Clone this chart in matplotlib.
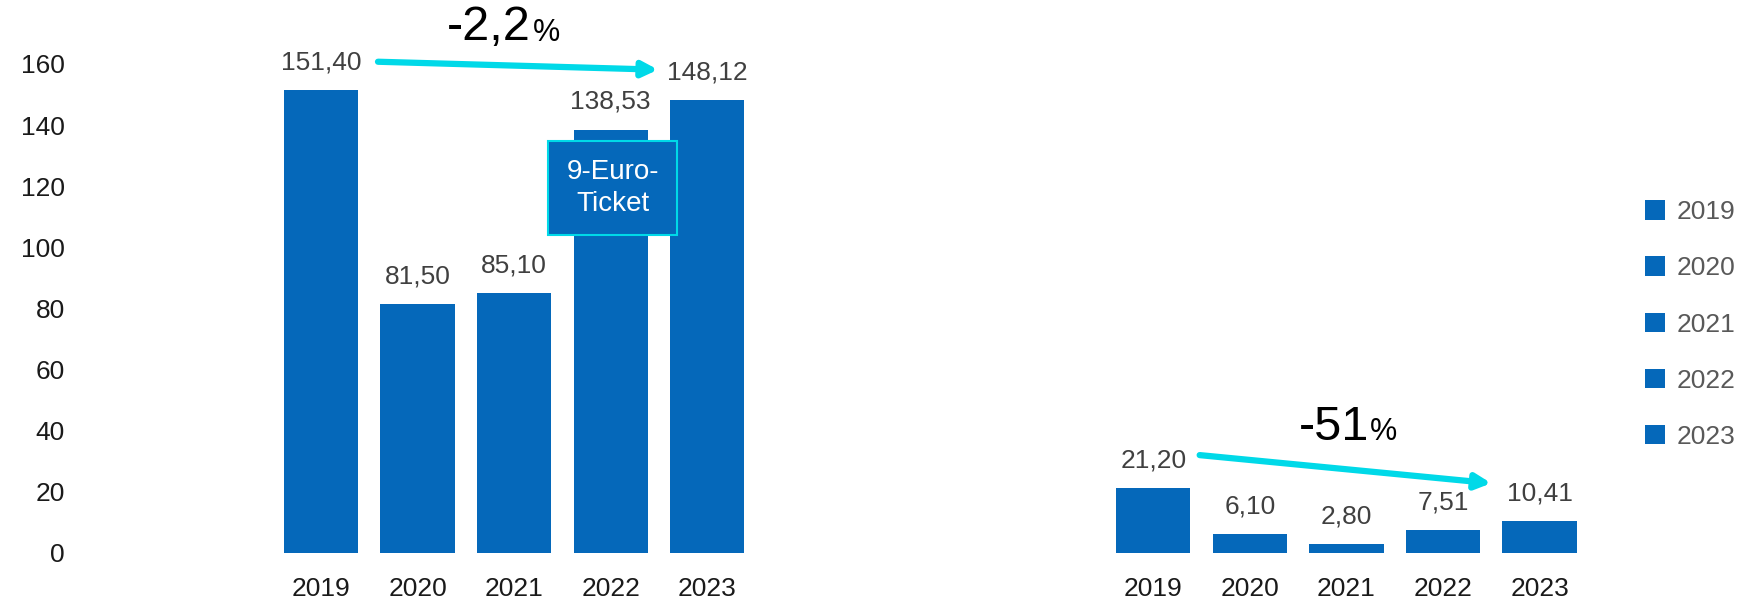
import numpy as np
import matplotlib
matplotlib.use("Agg")
import matplotlib.pyplot as plt

plt.rcParams['font.family'] = ['Liberation Sans', 'DejaVu Sans']

years = ['2019', '2020', '2021', '2022', '2023']
left_vals = [151.40, 81.50, 85.10, 138.53, 148.12]
right_vals = [21.20, 6.10, 2.80, 7.51, 10.41]
left_change = '-2,2'
right_change = '-51'

blue = '#0568BA'
cyan = '#00D9E8'
gray = '#404040'

fig = plt.figure(figsize=(17.6, 6.01), dpi=100)
ax = fig.add_axes([0.048, 0.080, 0.858, 0.89])

gap = 8.62  # offset of second group
x_left = np.arange(len(years))
x_right = x_left + gap

for i, y in enumerate(years):
    ax.bar([x_left[i], x_right[i]], [left_vals[i], right_vals[i]], width=0.77,
           color=blue, label=y)

# value labels
for xs, vals in [(x_left, left_vals), (x_right, right_vals)]:
    for x, v in zip(xs, vals):
        ax.annotate(f"{v:.2f}".replace('.', ','), (x, v), xytext=(0, 20),
                    textcoords='offset points', ha='center', va='center',
                    fontsize=19, color=gray)

ax.set_xlim(-2.45, 13.19)
ax.set_ylim(0, 175)
ax.set_yticks(range(0, 161, 20))
ax.set_xticks(list(x_left) + list(x_right))
ax.set_xticklabels(years + years)
ax.tick_params(axis='y', length=0, pad=14, labelsize=19, colors='#1a1a1a')
ax.tick_params(axis='x', length=0, pad=17, labelsize=19, colors='#1a1a1a')
for s in ax.spines.values():
    s.set_visible(False)

# trend arrows
arrow = dict(arrowstyle='-|>,head_length=0.9,head_width=0.45', color=cyan, lw=4.5,
             shrinkA=0, shrinkB=0)
ax.annotate('', xy=(x_left[3] + 0.49, 158.1), xytext=(x_left[0] + 0.59, 160.7),
            arrowprops=arrow)
ax.annotate('', xy=(x_right[3] + 0.5, 22.8), xytext=(x_right[0] + 0.48, 32),
            arrowprops=arrow)

# change labels
ax.text(x_left[1] + 0.74, 172, left_change, fontsize=35, ha='center', va='center', color='black')
ax.text(x_left[2] + 0.33, 170, '%', fontsize=22, ha='center', va='center', color='black')
ax.text(x_right[1] + 0.87, 41, right_change, fontsize=35, ha='center', va='center', color='black')
ax.text(x_right[2] + 0.38, 39.5, '%', fontsize=22, ha='center', va='center', color='black')

# 9-Euro-Ticket box
ax.text(x_left[3] + 0.02, 119.5, '9-Euro-\nTicket', fontsize=20, color='white',
        ha='center', va='center', linespacing=1.3,
        bbox=dict(boxstyle='square,pad=0.65', facecolor=blue, edgecolor=cyan, lw=1.5))

leg = ax.legend(loc='center left', bbox_to_anchor=(0.921, 0.46),
                bbox_transform=fig.transFigure, frameon=False, fontsize=19,
                handlelength=0.75, handleheight=0.75, handletextpad=0.45,
                labelspacing=1.22)
for t in leg.get_texts():
    t.set_color('#595959')

fig.savefig('out.png', dpi=100)
